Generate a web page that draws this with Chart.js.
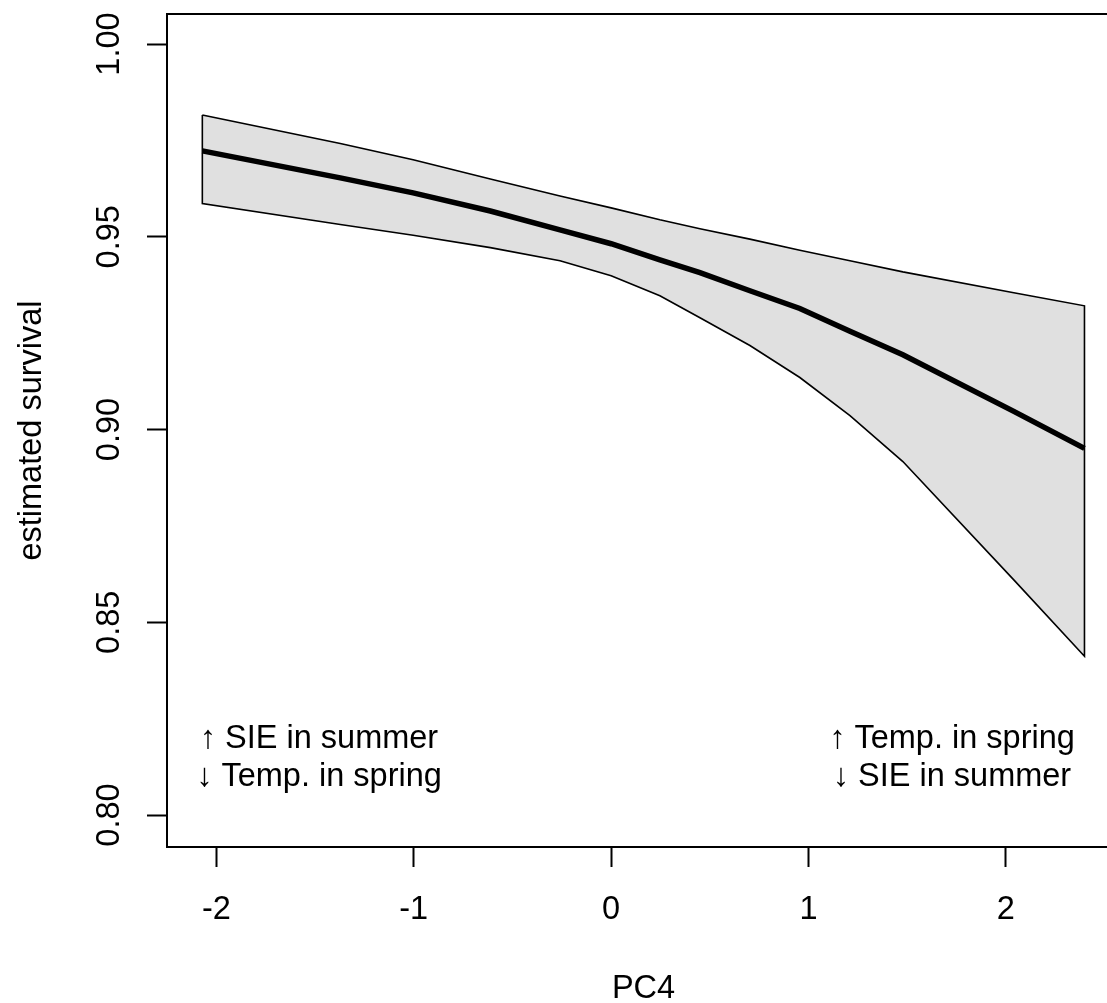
<!DOCTYPE html>
<html>
<head>
<meta charset="utf-8">
<script src="https://cdn.jsdelivr.net/npm/chart.js@4"></script>
<style>
  html, body { margin: 0; padding: 0; background: #fff; overflow: hidden; }
  canvas { display: block; }
</style>
</head>
<body>
<canvas id="survivalChart" width="1130" height="1003"></canvas>
<script>
// PC4 values and estimated survival (mean with confidence band)
const pc4 = [-2.071, -1.372, -1.003, -0.612, -0.259, 0, 0.247, 0.45, 0.703, 0.956, 1.21, 1.478, 2.04, 2.398];
const survival = [0.9723, 0.9653, 0.9614, 0.9567, 0.9518, 0.9482, 0.9440, 0.9407, 0.9360, 0.9314, 0.9255, 0.9194, 0.9047, 0.8951];
const upperCI = [0.9816, 0.9742, 0.9700, 0.9650, 0.9606, 0.9575, 0.9544, 0.9521, 0.9494, 0.9465, 0.9438, 0.9409, 0.9355, 0.9321];
const lowerCI = [0.9586, 0.9532, 0.9504, 0.9472, 0.9438, 0.9399, 0.9347, 0.9290, 0.9218, 0.9135, 0.9036, 0.8917, 0.8610, 0.8412];

const xTicks = [-2, -1, 0, 1, 2];
const yTicks = [0.80, 0.85, 0.90, 0.95, 1.00];
const yTickLabels = ['0.80', '0.85', '0.90', '0.95', '1.00'];

const leftNote = ['\u2191 SIE in summer', '\u2193 Temp. in spring'];
const rightNote = ['\u2191 Temp. in spring', '\u2193 SIE in summer'];

const FONT = '32.5px "Liberation Sans", Arial, Helvetica, sans-serif';

// band polygon: upper left->right, lower right->left, back to start
const bandPoints = pc4.map((x, i) => ({ x, y: upperCI[i] }))
  .concat(pc4.map((x, i) => ({ x, y: lowerCI[i] })).reverse());
bandPoints.push({ x: pc4[0], y: upperCI[0] });

const meanPoints = pc4.map((x, i) => ({ x, y: survival[i] }));

// R-style box, labels and notes
const rStyle = {
  id: 'rStyle',
  afterDraw(chart) {
    const ctx = chart.ctx;
    const a = chart.chartArea;
    const xs = chart.scales.x;
    const ys = chart.scales.y;
    ctx.save();
    ctx.strokeStyle = '#000';
    ctx.lineWidth = 2;
    ctx.strokeRect(a.left, a.top, a.right - a.left, a.bottom - a.top);

    ctx.fillStyle = '#000';
    ctx.font = FONT;

    // x tick labels
    ctx.textAlign = 'center';
    ctx.textBaseline = 'alphabetic';
    xTicks.forEach(v => {
      ctx.fillText(String(v), xs.getPixelForValue(v), 919);
    });
    ctx.fillText('PC4', (a.left + a.right) / 2, 998);

    // y tick labels (rotated)
    yTicks.forEach((v, i) => {
      ctx.save();
      ctx.translate(119, ys.getPixelForValue(v));
      ctx.rotate(-Math.PI / 2);
      ctx.fillText(yTickLabels[i], 0, 0);
      ctx.restore();
    });

    ctx.save();
    ctx.translate(41, (a.top + a.bottom) / 2);
    ctx.rotate(-Math.PI / 2);
    ctx.fillText('estimated survival', 0, 0);
    ctx.restore();

    // notes
    leftNote.forEach((t, i) => ctx.fillText(t, 319, 748 + i * 38));
    rightNote.forEach((t, i) => ctx.fillText(t, 952, 748 + i * 38));
    ctx.restore();
  }
};

new Chart(document.getElementById('survivalChart'), {
  type: 'scatter',
  data: {
    datasets: [
      {
        label: 'estimated survival',
        data: meanPoints,
        showLine: true,
        borderColor: '#000',
        borderWidth: 5.5,
        pointRadius: 0,
        fill: false,
        order: 0
      },
      {
        label: '95% CI',
        data: bandPoints,
        showLine: true,
        borderColor: '#000',
        borderWidth: 1.6,
        backgroundColor: 'rgb(224,224,224)',
        pointRadius: 0,
        fill: 'shape',
        order: 1
      }
    ]
  },
  options: {
    responsive: false,
    animation: false,
    layout: { padding: { left: 147, top: 14, right: 10, bottom: 136 } },
    plugins: {
      legend: { display: false },
      tooltip: { enabled: false }
    },
    scales: {
      x: {
        type: 'linear',
        min: -2.25,
        max: 2.578,
        afterBuildTicks: s => { s.ticks = xTicks.map(v => ({ value: v })); },
        afterFit: s => { s.height = 20; },
        ticks: { display: false },
        grid: { drawOnChartArea: false, drawTicks: true, tickLength: 20, tickWidth: 2, tickColor: '#000' },
        border: { display: false }
      },
      y: {
        type: 'linear',
        min: 0.7917,
        max: 1.0078,
        afterBuildTicks: s => { s.ticks = yTicks.map(v => ({ value: v })); },
        afterFit: s => { s.width = 20; },
        ticks: { display: false },
        grid: { drawOnChartArea: false, drawTicks: true, tickLength: 20, tickWidth: 2, tickColor: '#000' },
        border: { display: false }
      }
    }
  },
  plugins: [rStyle]
});
</script>
</body>
</html>
